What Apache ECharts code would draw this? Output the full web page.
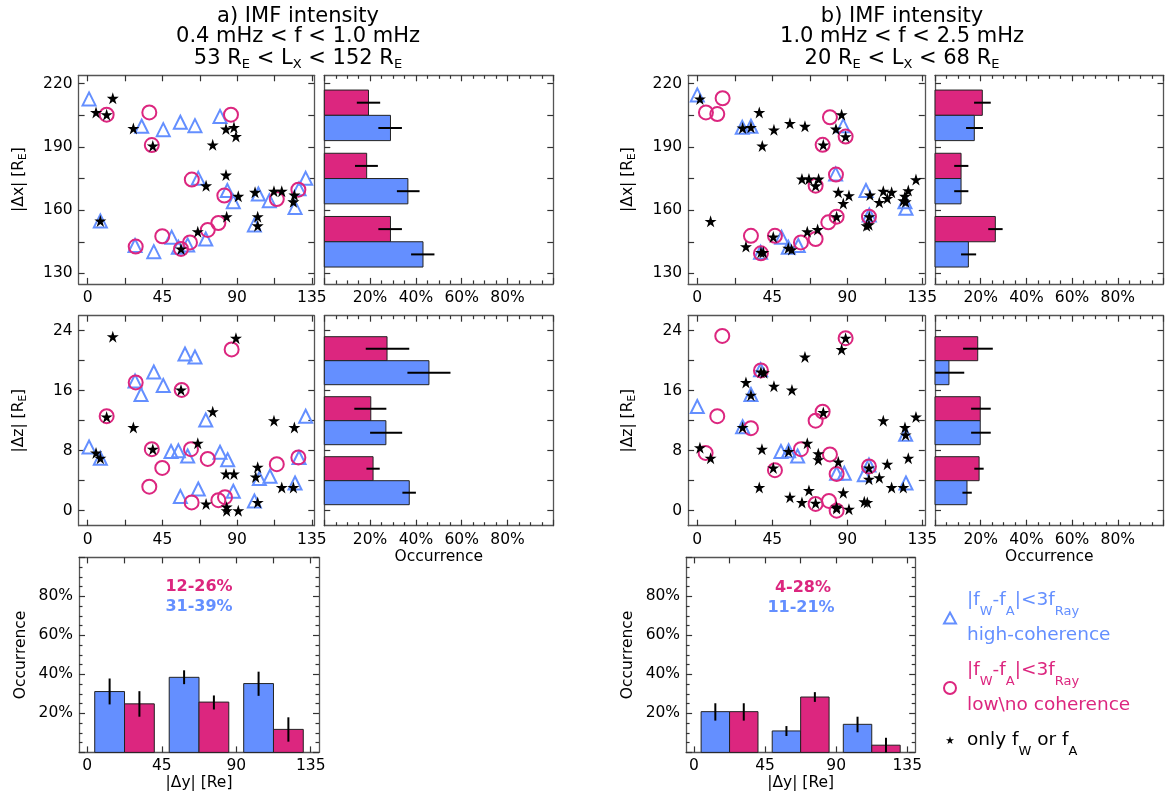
<!DOCTYPE html>
<html>
<head>
<meta charset="utf-8">
<title>IMF intensity</title>
<script src="https://cdn.jsdelivr.net/npm/echarts@6/dist/echarts.min.js"></script>
<style>
  html, body { margin: 0; background: #fff; }
  #chart { width: 1168px; height: 796px; }
</style>
</head>
<body>
<div id="chart"></div>
<script>
// ---------------- data ----------------
// scatter points: [|dy|, |dx|] and [|dy|, |dz|]   (R_E)
const triAX = [[0.8,212.8],[32.5,199.8],[45.5,198.2],[55.8,201.7],[64.6,200.1],[79.7,204.5],[7.6,154.9],[28.5,143.2],[39.8,140.3],[50.6,147.1],[54.6,142.4],[60.2,143.5],[66.6,175.1],[71.1,146.3],[84.1,169.3],[87.7,164.0],[100.4,153.0],[102.8,167.7],[109.4,164.5],[124.9,161.3],[127.3,170.1],[131.3,175.1]]
const cirAX = [[11.4,205.3],[37.1,206.4],[38.6,190.9],[86.3,205.3],[62.7,174.5],[82.3,166.9],[113.9,165.3],[126.9,169.7],[78.7,153.9],[72.3,150.6],[61.6,144.7],[56.2,141.6],[44.9,147.6],[28.9,142.7]]
const starAX = [[15.1,213.1],[5.0,206.4],[11.4,205.3],[27.5,198.8],[39.2,190.5],[75.3,191.0],[83.3,198.5],[88.1,199.3],[89.3,195.0],[83.3,176.7],[71.3,171.6],[90.7,166.6],[83.7,156.9],[66.3,149.8],[56.2,141.6],[7.6,154.9],[100.8,168.5],[102.4,156.9],[102.4,152.6],[112.2,169.0],[116.9,169.0],[124.5,167.2],[123.9,164.0]]
const triAZ = [[0.8,8.5],[7.6,7.0],[28.5,17.3],[32.1,15.5],[39.8,18.5],[45.5,16.7],[58.6,20.9],[64.6,20.5],[71.1,12.1],[50.2,7.9],[54.6,8.0],[60.2,7.3],[79.7,7.8],[84.3,6.8],[55.8,1.9],[66.6,2.9],[87.7,2.6],[100.4,1.3],[103.4,4.3],[109.8,4.6],[124.9,3.7],[127.3,7.1],[131.3,12.6]]
const cirAZ = [[11.4,12.6],[28.9,17.1],[56.6,16.1],[38.6,8.2],[44.9,5.7],[37.1,3.2],[62.2,8.2],[72.3,6.9],[62.6,1.1],[78.7,1.4],[82.7,1.8],[86.7,21.5],[113.9,6.2],[126.9,7.1]]
const starAZ = [[15.1,23.2],[89.3,23.0],[11.4,12.5],[27.5,11.1],[5.0,7.7],[7.6,7.0],[56.2,16.1],[39.2,8.2],[75.3,13.2],[66.3,9.0],[83.3,4.9],[88.1,4.9],[102.4,5.8],[101.2,4.5],[112.2,12.0],[124.5,11.1],[116.9,3.1],[123.9,3.1],[71.3,0.9],[83.7,0.5],[83.7,0.0],[90.7,0.0],[102.4,1.1]]

const triBX = [[0,214.7],[27,199.3],[32.2,199.8],[87.6,200.1],[83,177.2],[101.2,169.3],[103.2,157.7],[124.6,164.0],[125.2,160.9],[38,140.0],[50.6,147.1],[54.6,142.4],[60.6,143.2]]
const cirBX = [[15.2,213.1],[5.2,206.4],[12,205.6],[79.6,204.1],[89,194.9],[75.2,191.0],[83.2,176.9],[71,171.6],[103,156.9],[83.6,156.9],[78.6,154.2],[71,146.3],[62.2,144.7],[46.6,147.8],[32.2,147.8],[38.2,139.5]]
const starBX = [[1.6,212.8],[37.2,206.4],[27.2,199.0],[32.2,199.3],[46,198.1],[55.6,201.2],[64.6,199.8],[39,190.5],[75.6,191.0],[86.6,205.3],[83.2,198.5],[89,194.9],[62.8,174.8],[67,174.8],[72.8,174.8],[71,171.6],[84.6,168.5],[87.6,163.2],[91,166.9],[103.6,167.2],[111.6,169.0],[116.6,168.5],[109.2,163.7],[114,165.6],[124.6,166.6],[126.6,169.3],[131.2,174.5],[123.6,164.5],[125,164.0],[101.6,152.6],[103,153.1],[103.2,156.9],[83.6,156.9],[72.2,150.8],[66,149.8],[45.6,147.3],[29.2,142.7],[38.2,140.0],[39.6,140.0],[54.6,142.0],[56.6,141.3],[8,154.7]]
const triBZ = [[0,13.9],[38,18.8],[32.2,15.5],[27.2,11.2],[50.2,7.9],[54.8,8.0],[60.2,7.3],[83.6,5.0],[88.2,5.0],[100.2,4.8],[103,6.1],[125,10.2],[125.2,3.7]]
const cirBZ = [[15,23.3],[89,23.0],[38.2,18.7],[12,12.6],[32.2,11.0],[75.2,13.2],[71,12.0],[5,7.7],[46.6,5.4],[62.2,8.2],[79.6,7.5],[83.6,4.9],[103,5.9],[71,0.9],[79,1.3],[83.6,0]]
const starBZ = [[89,23.0],[86.6,21.5],[64.6,20.5],[38.2,18.5],[40,18.4],[29.2,17.1],[46,16.6],[56.8,16.1],[32.2,15.4],[75.6,13.1],[27.2,11.1],[111.6,12.0],[124.6,11.1],[125,10.1],[131.2,12.5],[1.6,8.4],[8,7.0],[38.8,8.2],[54.8,7.9],[66,9.0],[72.6,7.6],[72.6,6.8],[84.6,6.5],[114,6.2],[126.6,7.0],[103,5.7],[103,4.2],[109.2,4.4],[45.6,5.7],[37.2,3.1],[55.6,1.8],[62.8,1.1],[67,2.7],[71,1.0],[87.6,2.4],[83.6,0.5],[83.6,0.3],[91,0.2],[100.2,1.2],[102,1.1],[116.6,3.1],[123.6,3.1]]

// histogram bins (centres) and occurrence [%]: value, err low, err high
const dxBins = [145, 175, 205]
const dzBins = [4, 12, 20]
const dyBins = [22.5, 67.5, 112.5]

const pinkXA = [[28.9,23.6,33.9],[18.5,13.4,23.4],[19.3,14.2,24.4]]
const blueXA = [[43.1,37.9,48.1],[36.5,31.7,41.6],[28.9,23.6,33.9]]
const pinkZA = [[21.3,18.4,24.2],[20.3,13.1,27.1],[27.4,18.1,37.1]]
const blueZA = [[37.1,34.1,40.0],[26.9,20.0,34.0],[45.7,36.3,55.1]]
const blueYA = [[31.2,24.6,37.9],[38.5,35.0,42.1],[35.3,29.0,41.4]]
const pinkYA = [[24.9,18.3,31.4],[25.8,22.0,29.2],[11.8,5.5,18.0]]

const pinkXB = [[26.4,23.3,29.6],[11.4,8.4,14.6],[20.7,17.1,24.4]]
const blueXB = [[14.6,11.4,18.0],[11.4,8.4,14.6],[17.2,13.6,21.0]]
const pinkZB = [[19.3,17.2,21.3],[19.8,15.8,24.4],[18.7,12.3,25.3]]
const blueZB = [[14.0,12.0,16.1],[19.8,15.8,24.4],[6.1,0.0,12.8]]
const blueYB = [[20.9,16.3,25.2],[11.0,8.4,13.5],[14.4,10.3,18.3]]
const pinkYB = [[20.9,16.3,25.2],[28.4,25.9,30.9],[3.7,0.0,7.5]]

const rangeA = ['12-26%', '31-39%']
const rangeB = ['4-28%', '11-21%']

// ---------------- chart ----------------
const FONT = 'DejaVu Sans'
const BLUE = '#648FFF'
const PINK = '#DC267F'
const STAR = 'path://M0,-10L2.245,-3.09L9.51,-3.09L3.633,1.18L5.88,8.09L0,3.82L-5.88,8.09L-3.633,1.18L-9.51,-3.09L-2.245,-3.09Z'
// legend icons padded with empty sub-paths so they keep their size in a 24x12 box
const STAR_ICON = 'path://M-28,-14L-28,-14M28,14L28,14M0,-10L2.245,-3.09L9.51,-3.09L3.633,1.18L5.88,8.09L0,3.82L-5.88,8.09L-3.633,1.18L-9.51,-3.09L-2.245,-3.09Z'
const TRI_ICON = 'path://M-12,-6L-12,-6M12,6L12,6M0,-5.5L6,5.5L-6,5.5Z'
const CIR_ICON = 'path://M-12,-6L-12,-6M12,6L12,6M6,0A6,6,0,1,1,-6,0A6,6,0,1,1,6,0Z'

const chart = echarts.init(document.getElementById('chart'))

const labelStyle = { color: '#000', fontFamily: FONT, fontSize: 15.5, margin: 6 }
const lineStyle = { color: '#555', width: 1.3 }
const tickStyle = { color: '#333', width: 1.2 }
const step = (a, b, s) => { const r = []; for (let v = a; v <= b + 1e-9; v += s) r.push(v); return r }
const nameRich = {
  m: { fontFamily: FONT, fontSize: 15.5, color: '#000', lineHeight: 20 },
  s: { fontFamily: FONT, fontSize: 10.5, color: '#000', verticalAlign: 'bottom', lineHeight: 8 }
}

// one axis pair (labelled + mirrored) per side
function axisPair(grid, o) {
  const base = {
    type: 'value', gridIndex: grid, min: o.min, max: o.max,
    splitLine: { show: false },
    axisLine: { show: true, onZero: false, lineStyle },
    axisTick: { show: true, inside: true, length: 6, lineStyle: tickStyle },
  }
  if (o.ticks) base.axisTick.customValues = o.ticks
  if (o.interval) {
    base.interval = o.interval
    base.minorTick = { show: true, splitNumber: 4, length: 3.5, lineStyle: tickStyle }
  }
  const main = Object.assign({}, base, { position: o.pos[0] })
  main.axisLabel = o.labels === false ? { show: false } : Object.assign({}, labelStyle, {
    show: true,
    formatter: o.fmt || (v => String(v)),
  })
  if (Array.isArray(o.labels)) main.axisLabel.customValues = o.labels
  if (o.name) {
    Object.assign(main, { name: o.name, nameLocation: 'middle', nameGap: o.gap,
      nameTextStyle: { fontFamily: FONT, fontSize: 15.5, color: '#000', rich: nameRich } })
  }
  const mirror = Object.assign({}, base, { position: o.pos[1], axisLabel: { show: false } })
  return [main, mirror]
}

const scX = { min: -5.5, max: 136.5, ticks: step(0, 135, 22.5), labels: [0, 45, 90, 135], pos: ['bottom', 'top'] }
const pctX = (name) => ({ min: 0, max: 100, interval: 20, pos: ['bottom', 'top'], name, gap: 17,
  fmt: v => (v === 0 || v === 100) ? '' : v + '%' })
const dxY = (labels, name) => ({ min: 125, max: 224, ticks: step(130, 220, 15), labels, pos: ['left', 'right'], name, gap: 50 })
const dzY = (labels, name) => ({ min: -2, max: 26, ticks: step(0, 24, 4), labels, pos: ['left', 'right'], name, gap: 50 })
const botX = { min: -5, max: 140, ticks: step(0, 135, 22.5), labels: [0, 45, 90, 135], pos: ['bottom', 'top'], name: '|Δy| [Re]', gap: 19 }
const botY = { min: 0, max: 100, interval: 20, pos: ['left', 'right'], name: 'Occurrence', gap: 50,
  fmt: v => (v === 0 || v === 100) ? '' : v + '%' }

const grids = [
  { left: 78.6, top: 75.3, width: 235.7, height: 208.6 },
  { left: 324.3, top: 75.3, width: 229, height: 208.6 },
  { left: 78.6, top: 315.7, width: 235.7, height: 210 },
  { left: 324.3, top: 315.7, width: 229, height: 210 },
  { left: 79, top: 557.4, width: 240, height: 195 },
  { left: 688.1, top: 75.3, width: 236.7, height: 208.6 },
  { left: 935, top: 75.3, width: 228.5, height: 208.6 },
  { left: 688.1, top: 315.7, width: 236.7, height: 210 },
  { left: 935, top: 315.7, width: 228.5, height: 210 },
  { left: 686.1, top: 557.4, width: 229.1, height: 195 },
].map(g => Object.assign({ containLabel: false, show: false }, g))

const xName = '{m||Δx| [R}{s|E}{m|]}'
const zName = '{m||Δz| [R}{s|E}{m|]}'
const xDefs = [scX, pctX(), scX, pctX('Occurrence'), botX, scX, pctX(), scX, pctX('Occurrence'), botX]
const yDefs = [dxY([130, 160, 190, 220], xName), dxY(false), dzY([0, 8, 16, 24], zName), dzY(false), botY,
  dxY([130, 160, 190, 220], xName), dxY(false), dzY([0, 8, 16, 24], zName), dzY(false), botY]
const xAxis = [], yAxis = []
xDefs.forEach((d, i) => xAxis.push(...axisPair(i, d)))
yDefs.forEach((d, i) => yAxis.push(...axisPair(i, d)))

function scatterSet(g, tri, cir, star) {
  const ax = { xAxisIndex: 2 * g, yAxisIndex: 2 * g }
  return [
    Object.assign({ name: 'tri', type: 'scatter', data: tri, symbol: 'triangle', symbolSize: 13,
      itemStyle: { color: 'rgba(0,0,0,0)', borderColor: BLUE, borderWidth: 2, opacity: 1 } }, ax),
    Object.assign({ name: 'cir', type: 'scatter', data: cir, symbol: 'circle', symbolSize: 14,
      itemStyle: { color: 'rgba(0,0,0,0)', borderColor: PINK, borderWidth: 2, opacity: 1 } }, ax),
    Object.assign({ name: 'star', type: 'scatter', data: star, symbol: STAR, symbolSize: 12,
      itemStyle: { color: '#000', opacity: 1 } }, ax),
  ]
}

// horizontal histogram bars (side panels)
function hbars(g, bins, vals, color, sign, h) {
  return {
    type: 'custom', xAxisIndex: 2 * g, yAxisIndex: 2 * g, silent: true,
    data: bins.map((b, i) => [b, vals[i][0], vals[i][1], vals[i][2]]),
    renderItem: (params, api) => {
      const c = api.value(0)
      const p0 = api.coord([0, c]), p1 = api.coord([api.value(1), c + sign * h])
      const ym = api.coord([0, c + sign * h / 2])[1]
      const l = api.coord([api.value(2), c])[0], r = api.coord([api.value(3), c])[0]
      return { type: 'group', children: [
        { type: 'rect', shape: { x: p0[0], y: Math.min(p0[1], p1[1]), width: p1[0] - p0[0], height: Math.abs(p1[1] - p0[1]) },
          style: { fill: color, stroke: '#222', lineWidth: 1 } },
        { type: 'line', shape: { x1: l, y1: ym, x2: r, y2: ym }, style: { stroke: '#000', lineWidth: 2 } },
      ] }
    },
  }
}

// vertical histogram bars (bottom panels)
function vbars(g, bins, vals, color, sign, w) {
  return {
    type: 'custom', xAxisIndex: 2 * g, yAxisIndex: 2 * g, silent: true,
    data: bins.map((b, i) => [b, vals[i][0], vals[i][1], vals[i][2]]),
    renderItem: (params, api) => {
      const c = api.value(0)
      const p0 = api.coord([c, 0]), p1 = api.coord([c + sign * w, api.value(1)])
      const xm = api.coord([c + sign * w / 2, 0])[0]
      const lo = api.coord([c, api.value(2)])[1], hi = api.coord([c, api.value(3)])[1]
      return { type: 'group', children: [
        { type: 'rect', shape: { x: Math.min(p0[0], p1[0]), y: p1[1], width: Math.abs(p1[0] - p0[0]), height: p0[1] - p1[1] },
          style: { fill: color, stroke: '#222', lineWidth: 1 } },
        { type: 'line', shape: { x1: xm, y1: lo, x2: xm, y2: hi }, style: { stroke: '#000', lineWidth: 2 } },
      ] }
    },
  }
}

const series = [
  ...scatterSet(0, triAX, cirAX, starAX),
  ...scatterSet(2, triAZ, cirAZ, starAZ),
  ...scatterSet(5, triBX, cirBX, starBX),
  ...scatterSet(7, triBZ, cirBZ, starBZ),
  hbars(1, dxBins, pinkXA, PINK, 1, 12), hbars(1, dxBins, blueXA, BLUE, -1, 12),
  hbars(3, dzBins, pinkZA, PINK, 1, 3.2), hbars(3, dzBins, blueZA, BLUE, -1, 3.2),
  vbars(4, dyBins, blueYA, BLUE, -1, 18), vbars(4, dyBins, pinkYA, PINK, 1, 18),
  hbars(6, dxBins, pinkXB, PINK, 1, 12), hbars(6, dxBins, blueXB, BLUE, -1, 12),
  hbars(8, dzBins, pinkZB, PINK, 1, 3.2), hbars(8, dzBins, blueZB, BLUE, -1, 3.2),
  vbars(9, dyBins, blueYB, BLUE, -1, 18), vbars(9, dyBins, pinkYB, PINK, 1, 18),
]

const titleRich = {
  m: { fontFamily: FONT, fontSize: 21, color: '#000', lineHeight: 24 },
  s: { fontFamily: FONT, fontSize: 13, color: '#000', verticalAlign: 'bottom', lineHeight: 10 },
}
const tline = (x, top, text) => ({ left: x, top, textAlign: 'center', text,
  textStyle: { fontFamily: FONT, fontSize: 21, fontWeight: 'normal', color: '#000', rich: titleRich } })

const legendText = {
  tri: '{m||f}{s|W}{m|-f}{s|A}{m||<3f}{s|Ray}\n{m|high-coherence}',
  cir: '{m||f}{s|W}{m|-f}{s|A}{m||<3f}{s|Ray}\n{m|low\\no coherence}',
  star: '{m|only f}{s|W}{m| or f}{s|A}',
}
const legendRich = {
  m: { fontFamily: FONT, fontSize: 18.5, lineHeight: 35 },
  s: { fontFamily: FONT, fontSize: 13, verticalAlign: 'bottom', lineHeight: 7 },
}

const rangeText = (x, y, text, color) => ({ type: 'text', x, y, silent: true,
  style: { text, fill: color, font: 'bold 16px "DejaVu Sans"', align: 'center', verticalAlign: 'middle' } })

const option = {
  animation: false,
  backgroundColor: '#fff',
  title: [
    tline(293, 1, 'a) IMF intensity'),
    tline(293, 21, '0.4 mHz < f < 1.0 mHz'),
    tline(293, 42, '{m|53 R}{s|E}{m| < L}{s|X}{m| < 152 R}{s|E}'),
    tline(897, 1, 'b) IMF intensity'),
    tline(897, 21, '1.0 mHz < f < 2.5 mHz'),
    tline(897, 42, '{m|20 R}{s|E}{m| < L}{s|X}{m| < 68 R}{s|E}'),
  ],
  grid: grids,
  xAxis,
  yAxis,
  legend: {
    orient: 'vertical', left: 932, top: 578, itemGap: 0, itemWidth: 24, itemHeight: 12,
    selectedMode: false,
    formatter: n => legendText[n],
    textStyle: { fontFamily: FONT, fontSize: 18.5, lineHeight: 35, rich: legendRich },
    data: [
      { name: 'tri', icon: TRI_ICON, itemStyle: { color: 'rgba(0,0,0,0)', borderColor: BLUE, borderWidth: 2 }, textStyle: { color: BLUE } },
      { name: 'cir', icon: CIR_ICON, itemStyle: { color: 'rgba(0,0,0,0)', borderColor: PINK, borderWidth: 2 }, textStyle: { color: PINK } },
      { name: 'star', icon: STAR_ICON, itemStyle: { color: '#000' }, textStyle: { color: '#000' } },
    ],
  },
  graphic: [
    rangeText(199, 587, rangeA[0], PINK),
    rangeText(199, 607, rangeA[1], BLUE),
    rangeText(803, 588, rangeB[0], PINK),
    rangeText(801, 608, rangeB[1], BLUE),
  ],
  series,
}

chart.setOption(option)
window.addEventListener('resize', () => chart.resize())
</script>
</body>
</html>
